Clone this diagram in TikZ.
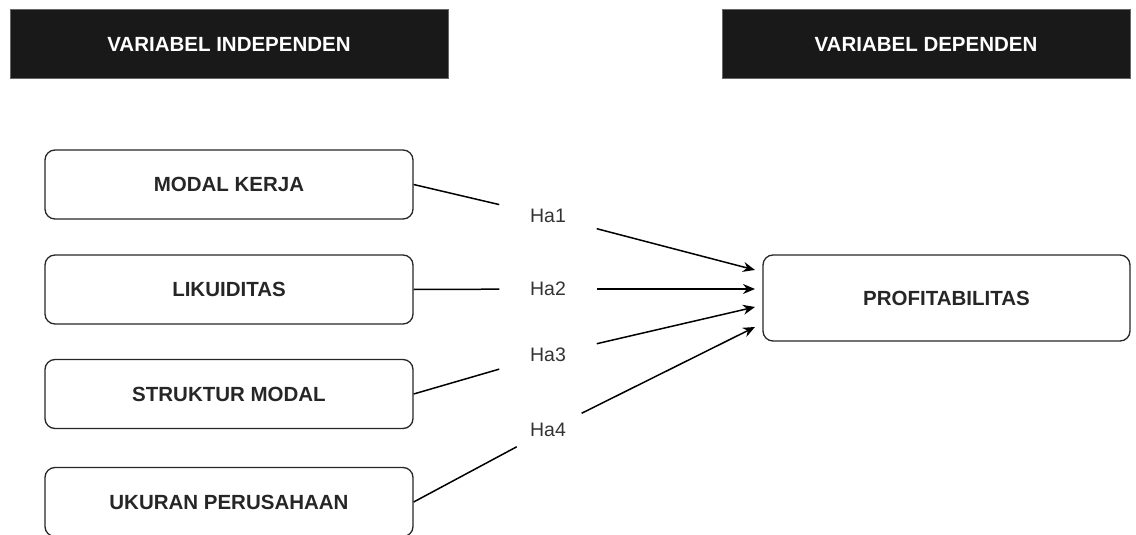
\documentclass[tikz,border=0pt]{standalone}
\usepackage{fontspec}
\setmainfont{Liberation Sans}
\usetikzlibrary{arrows.meta}

\tikzset{
  every head/.style={fill=black!90, draw=black!60, line width=1pt,
    minimum height=69pt, text=white,
    font=\fontsize{20.5}{24}\selectfont\bfseries},
  every var/.style={draw=black!85, line width=1.3pt, rounded corners=10pt,
    minimum width=368pt, minimum height=69pt, text=black!85,
    font=\fontsize{20.5}{24}\selectfont\bfseries},
  every hyp/.style={minimum width=96pt, minimum height=32pt, text=black!80,
    font=\fontsize{19.5}{23}\selectfont}
}

\begin{document}
\begin{tikzpicture}[x=1pt, y=-1pt, >={Stealth[length=12pt, width=10pt]}, line width=1.5pt]
\useasboundingbox (0,0) rectangle (1136,535);

\node [every head/.try, minimum width=438pt] (head-indep) at (229,44.5) {VARIABEL INDEPENDEN};
\node [every head/.try, minimum width=408pt] (head-dep) at (926,44.5) {VARIABEL DEPENDEN};

\foreach \l/\yy [count=\i] in {MODAL KERJA/184.5, LIKUIDITAS/289.5, STRUKTUR MODAL/394, UKURAN PERUSAHAAN/502}
  \node [every var/.try] (var-\i) at (229,\yy) {\l};

\node [every var/.try, minimum width=367pt, minimum height=86pt] (profit) at (946.5,298) {PROFITABILITAS};

\foreach \yy [count=\i] in {216,289,355,430}
  \node [every hyp/.try] (hyp-\i) at (548,\yy) {Ha\i};

\foreach \yy [count=\i] in {270,289,307,327}
  \coordinate (tip-\i) at (755,\yy);

\foreach \i in {1,...,4}
  \draw (var-\i.east) -- (hyp-\i);

\foreach \i in {1,...,4}
  \draw [->] (hyp-\i) -- (tip-\i);

\end{tikzpicture}
\end{document}
